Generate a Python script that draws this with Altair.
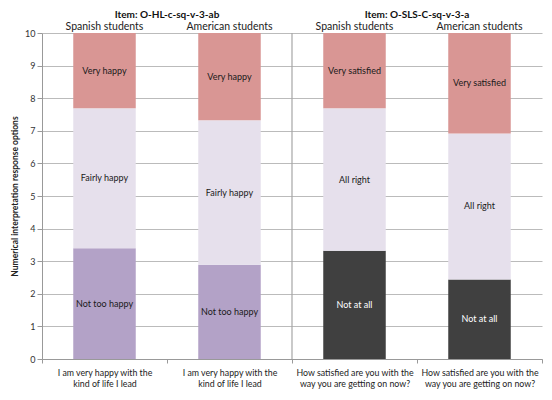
import json
import altair as alt
import pandas as pd

# ---- data ----
categories = ["c1", "c2", "c3", "c4"]
groups = ["Spanish students", "American students", "Spanish students", "American students"]
x_labels = [
    ["I am very happy with the", "kind of life I lead"],
    ["I am very happy with the", "kind of life I lead"],
    ["How satisfied are you with the", "way you are getting on now?"],
    ["How satisfied are you with the", "way you are getting on now?"],
]
items = ["Item: O-HL-c-sq-v-3-ab", "Item: O-SLS-C-sq-v-3-a"]
item_anchor = ["c1", "c3"]          # item title sits at right edge of this band
separators = ["c3"]                 # vertical separator at left edge of this band

low_top = [3.40, 2.89, 3.32, 2.44]
mid_top = [7.69, 7.32, 7.69, 6.92]
high_top = [10, 10, 10, 10]

low_labels = ["Not too happy", "Not too happy", "Not at all", "Not at all"]
mid_labels = ["Fairly happy", "Fairly happy", "All right", "All right"]
high_labels = ["Very happy", "Very happy", "Very satisfied", "Very satisfied"]
low_keys = ["happy_low", "happy_low", "sat_low", "sat_low"]

rows = []
for i, c in enumerate(categories):
    rows.append(dict(cat=c, start=0, end=low_top[i], label=low_labels[i], key=low_keys[i]))
    rows.append(dict(cat=c, start=low_top[i], end=mid_top[i], label=mid_labels[i], key="mid"))
    rows.append(dict(cat=c, start=mid_top[i], end=high_top[i], label=high_labels[i], key="high"))
df = pd.DataFrame(rows)
df["mid_pos"] = (df["start"] + df["end"]) / 2

groups_df = pd.DataFrame({"cat": categories, "group": groups})
items_df = pd.DataFrame({"cat": item_anchor, "item": items})
sep_df = pd.DataFrame({"cat": separators})

FONT = "Lato"
W, H = 500, 326
YTITLE = "Numerical interpretation response options"

label_expr = "%s[indexof(%s, datum.value)]" % (json.dumps(x_labels), json.dumps(categories))

xscale = alt.Scale(domain=categories, paddingInner=0, paddingOuter=0)
yscale = alt.Scale(domain=[0, 10])

xaxis = alt.Axis(labelExpr=label_expr, tickBand="extent", labelAngle=0,
                 labelFont=FONT, labelFontSize=8.8, labelColor="#222",
                 labelPadding=5, labelLineHeight=11.5,
                 domainColor="#999", tickColor="#999", tickSize=4, grid=False)
yaxis = alt.Axis(values=list(range(11)), labelFont=FONT, labelFontSize=9,
                 labelColor="#333", titleFont=FONT, titleFontSize=8.5,
                 titleFontWeight="bold", titleColor="#222", titlePadding=5,
                 labelOverlap=False,
                 domainColor="#999", tickColor="#999", tickSize=5,
                 gridColor="#BBBBBB", gridWidth=1)

bars = alt.Chart(df).mark_bar(width={"band": 0.5}).encode(
    x=alt.X("cat:N", scale=xscale, title=None, axis=xaxis),
    y=alt.Y("start:Q", scale=yscale, title=YTITLE, axis=yaxis),
    y2="end:Q",
    color=alt.Color("key:N", legend=None,
                    scale=alt.Scale(domain=["high", "mid", "happy_low", "sat_low"],
                                    range=["#D99694", "#E6E0EC", "#B3A2C7", "#404040"])),
)

seg_text = alt.Chart(df).mark_text(font=FONT, fontSize=9).encode(
    x=alt.X("cat:N", scale=xscale, title=None, axis=xaxis),
    y=alt.Y("mid_pos:Q", scale=yscale, title=YTITLE, axis=yaxis),
    text="label:N",
    color=alt.condition(alt.datum.key == "sat_low", alt.value("#ffffff"), alt.value("#1a1a1a")),
)

sep = alt.Chart(sep_df).mark_rule(color="#A6A6A6", strokeWidth=1.2).encode(
    x=alt.X("cat:N", scale=xscale, bandPosition=0, title=None, axis=xaxis),
)

group_text = alt.Chart(groups_df).mark_text(font=FONT, fontSize=10.5, color="#222").encode(
    x=alt.X("cat:N", scale=xscale, title=None, axis=xaxis),
    y=alt.value(-6),
    text="group:N",
)

item_text = alt.Chart(items_df).mark_text(font=FONT, fontSize=10, fontWeight="bold",
                                          color="#111").encode(
    x=alt.X("cat:N", scale=xscale, bandPosition=1, title=None, axis=xaxis),
    y=alt.value(-18),
    text="item:N",
)

chart = alt.layer(bars, seg_text, sep, group_text, item_text).properties(
    width=W, height=H,
    autosize=alt.AutoSizeParams(type="none"),
    padding={"left": 34, "top": 25, "right": 2, "bottom": 33},
).configure_view(stroke=None)

chart.save("out.html", embed_options={"renderer": "svg", "actions": False})
